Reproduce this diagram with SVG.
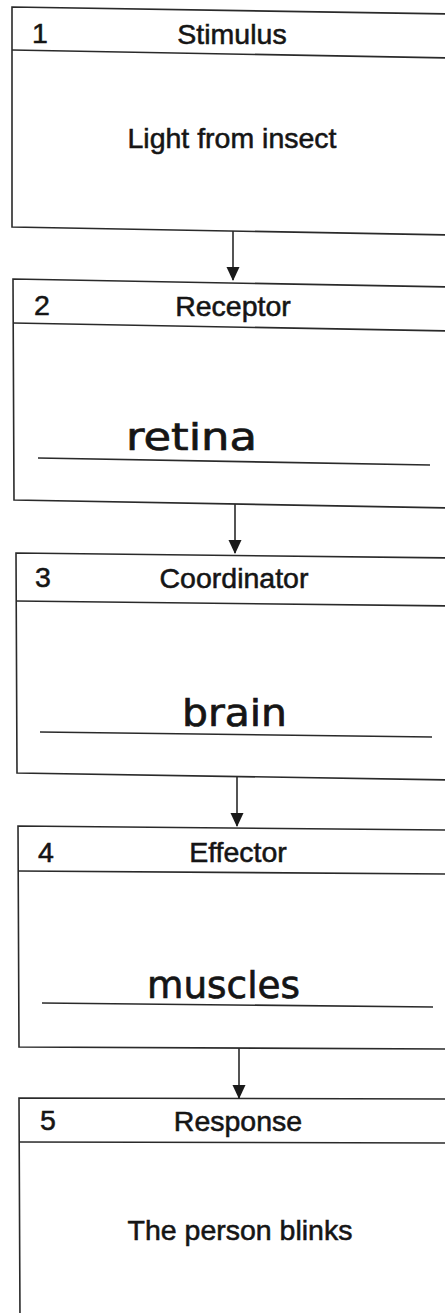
<svg xmlns="http://www.w3.org/2000/svg" width="445" height="1313" viewBox="0 0 445 1313">
<style>
.box{fill:none;stroke:#2a2a2a;stroke-width:1.6}
.ln{stroke:#2a2a2a;stroke-width:1.6;fill:none}
.t{font-family:"Liberation Sans",Arial,sans-serif;font-size:28.5px;fill:#151515;stroke:#151515;stroke-width:0.55}
.c{text-anchor:middle}
.hw{font-family:"DejaVu Sans","Liberation Sans",sans-serif;font-size:38px;fill:#151515;stroke:#151515;stroke-width:0.7}
.conn{stroke:#2a2a2a;stroke-width:1.6;fill:none;marker-end:url(#ah)}
</style>
<defs>
<marker id="ah" markerUnits="userSpaceOnUse" markerWidth="14" markerHeight="14" viewBox="0 0 14 14" refX="13" refY="7" orient="auto">
<path d="M0,0.5 L14,7 L0,13.5 Z" fill="#1a1a1a"/>
</marker>
</defs>
<rect width="445" height="1313" fill="#fff"/>
<g id="node1">
<polygon class="box" points="12,7 452,14 452,235 12,227"/>
<line class="ln" x1="12" y1="50" x2="452" y2="58"/>
<text class="t" x="32" y="43">1</text>
<text class="t c" x="232" y="44">Stimulus</text>
<text class="t c" x="232" y="148">Light from insect</text>
</g>
<g id="node2">
<polygon class="box" points="13,279 452,287 452,508 14,500"/>
<line class="ln" x1="13" y1="323" x2="452" y2="331"/>
<text class="t" x="34" y="315">2</text>
<text class="t c" x="233" y="316">Receptor</text>
<text class="hw" x="126" y="450" textLength="131" lengthAdjust="spacingAndGlyphs">retina</text>
<line class="ln" x1="38" y1="458" x2="430" y2="465"/>
</g>
<g id="node3">
<polygon class="box" points="16,553 452,558 452,780 17,773"/>
<line class="ln" x1="16" y1="601" x2="452" y2="606"/>
<text class="t" x="35" y="587">3</text>
<text class="t c" x="234" y="588">Coordinator</text>
<text class="hw" x="182" y="726" textLength="105" lengthAdjust="spacingAndGlyphs">brain</text>
<line class="ln" x1="40" y1="732" x2="432" y2="737"/>
</g>
<g id="node4">
<polygon class="box" points="18,826 452,830 452,1049 19,1047"/>
<line class="ln" x1="18" y1="871" x2="452" y2="874"/>
<text class="t" x="38" y="862">4</text>
<text class="t c" x="238" y="862">Effector</text>
<text class="hw" x="147" y="998" textLength="153" lengthAdjust="spacingAndGlyphs">muscles</text>
<line class="ln" x1="42" y1="1003" x2="433" y2="1007"/>
</g>
<g id="node5">
<polygon class="box" points="19,1098 452,1099 452,1320 20,1320"/>
<line class="ln" x1="19" y1="1142" x2="452" y2="1143"/>
<text class="t" x="40" y="1130">5</text>
<text class="t c" x="238" y="1131">Response</text>
<text class="t c" x="240" y="1240">The person blinks</text>
</g>
<g id="connectors">
<line class="conn" x1="233" y1="231" x2="233" y2="280"/>
<line class="conn" x1="235" y1="504" x2="235" y2="553"/>
<line class="conn" x1="237" y1="777" x2="237" y2="826"/>
<line class="conn" x1="239" y1="1048" x2="239" y2="1098"/>
</g>
</svg>
